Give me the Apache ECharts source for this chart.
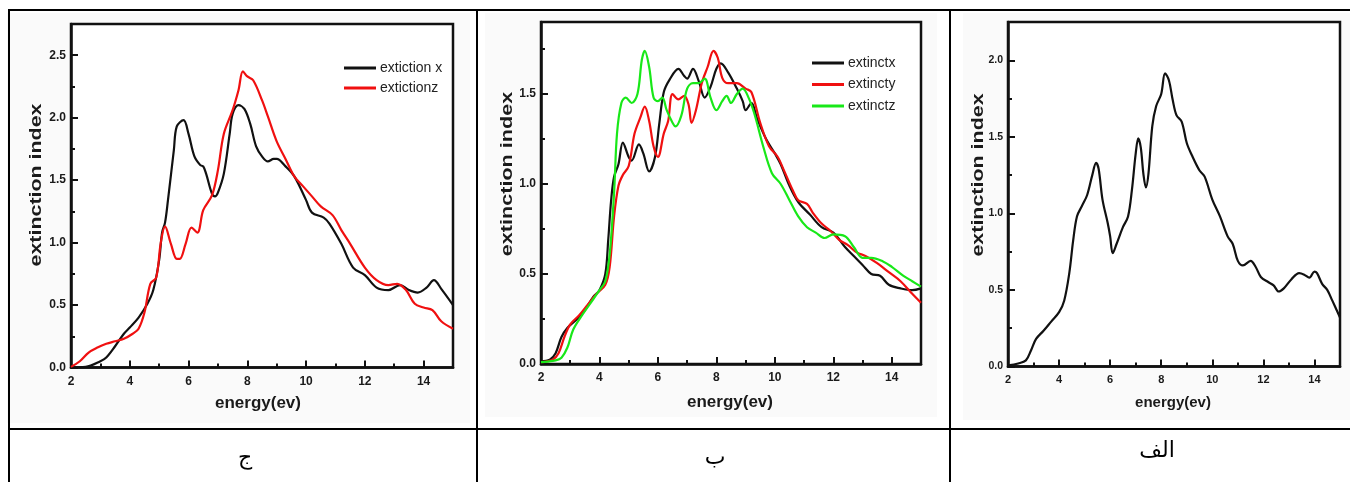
<!DOCTYPE html>
<html>
<head>
<meta charset="utf-8">
<script src="https://cdn.jsdelivr.net/npm/echarts@6/dist/echarts.min.js"></script>
<style>
html,body{margin:0;padding:0;background:#fff;}
#c{width:1350px;height:482px;}
</style>
</head>
<body>
<div id="c"></div>
<script>
// ---- Panel ج (left): extiction x / extictionz ----
const j_x_x = [2.0,2.5,3.0,3.2,3.5,3.8,4.0,4.3,4.6,4.8,5.0,5.1,5.2,5.3,5.5,5.6,5.83,6.0,6.2,6.4,6.5,6.6,6.8,6.9,7.0,7.2,7.4,7.5,7.7,7.9,8.1,8.3,8.5,8.7,8.9,9.0,9.3,9.6,10.0,10.2,10.6,10.8,11.2,11.6,12.0,12.4,12.8,13.2,13.5,13.8,14.1,14.35,14.6,15.0];
const j_y_x = [0.0,0.005,0.05,0.08,0.17,0.27,0.32,0.40,0.51,0.62,0.86,1.08,1.16,1.34,1.74,1.93,1.98,1.87,1.69,1.62,1.61,1.55,1.39,1.37,1.40,1.55,1.87,2.03,2.10,2.07,1.95,1.77,1.69,1.65,1.67,1.67,1.61,1.53,1.34,1.24,1.20,1.15,0.99,0.80,0.74,0.64,0.62,0.66,0.62,0.60,0.64,0.70,0.63,0.50];
const j_x_z = [2.0,2.3,2.6,2.9,3.2,3.5,3.8,4.1,4.3,4.5,4.7,4.9,5.05,5.2,5.4,5.6,5.7,5.9,6.1,6.3,6.5,6.8,7.0,7.2,7.5,7.7,7.85,8.0,8.2,8.5,8.7,9.0,9.3,9.6,9.9,10.2,10.5,10.9,11.2,11.5,12.0,12.4,12.8,13.1,13.4,13.7,14.0,14.3,14.6,15.0];
const j_y_z = [0.005,0.05,0.12,0.16,0.19,0.21,0.23,0.27,0.31,0.44,0.67,0.72,0.99,1.13,0.99,0.87,0.87,0.99,1.12,1.08,1.26,1.38,1.58,1.87,2.06,2.22,2.37,2.33,2.30,2.14,2.01,1.81,1.67,1.53,1.45,1.37,1.29,1.22,1.10,0.99,0.80,0.70,0.66,0.67,0.62,0.51,0.48,0.46,0.37,0.31];

// ---- Panel ب (middle): extinctx / extincty / extinctz ----
const b_x_x = [2.0,2.3,2.5,2.7,2.9,3.2,3.5,3.8,4.0,4.2,4.3,4.4,4.5,4.65,4.8,5.0,5.1,5.35,5.5,5.7,5.9,6.05,6.2,6.4,6.7,6.9,7.0,7.2,7.4,7.6,7.8,8.0,8.15,8.4,8.7,8.9,9.0,9.2,9.4,9.7,10.0,10.2,10.5,10.8,11.2,11.6,12.0,12.4,12.7,13.0,13.3,13.6,13.9,14.3,14.7,15.0];
const b_y_x = [0.015,0.024,0.06,0.15,0.20,0.245,0.30,0.375,0.41,0.50,0.69,0.91,1.04,1.11,1.23,1.15,1.13,1.22,1.17,1.07,1.15,1.34,1.51,1.58,1.64,1.60,1.585,1.64,1.57,1.48,1.54,1.64,1.67,1.62,1.53,1.46,1.41,1.45,1.36,1.25,1.17,1.11,0.99,0.90,0.83,0.76,0.73,0.65,0.60,0.55,0.50,0.49,0.44,0.42,0.41,0.42];
const b_x_y = [2.0,2.4,2.6,2.8,3.0,3.3,3.6,3.9,4.2,4.35,4.5,4.65,4.8,5.0,5.2,5.4,5.55,5.7,5.85,6.0,6.2,6.35,6.5,6.7,6.9,7.05,7.15,7.3,7.5,7.7,7.9,8.05,8.2,8.4,8.7,9.0,9.2,9.5,9.8,10.1,10.3,10.6,10.8,11.1,11.3,11.6,11.9,12.2,12.5,12.8,13.1,13.5,13.9,14.3,14.7,15.0];
const b_y_y = [0.01,0.024,0.06,0.15,0.22,0.27,0.33,0.39,0.44,0.54,0.82,0.99,1.05,1.10,1.28,1.37,1.43,1.35,1.21,1.15,1.28,1.35,1.50,1.47,1.49,1.44,1.34,1.41,1.56,1.65,1.74,1.70,1.59,1.56,1.56,1.53,1.51,1.34,1.21,1.15,1.08,0.97,0.91,0.89,0.84,0.78,0.74,0.69,0.66,0.62,0.60,0.56,0.51,0.46,0.39,0.34];
const b_x_z = [2.0,2.5,2.7,2.9,3.1,3.4,3.7,4.0,4.2,4.35,4.5,4.6,4.75,4.9,5.1,5.3,5.45,5.55,5.7,5.85,6.0,6.15,6.3,6.5,6.6,6.8,7.0,7.2,7.4,7.6,7.8,8.0,8.2,8.35,8.5,8.7,8.9,9.1,9.3,9.6,9.9,10.2,10.5,10.8,11.1,11.4,11.7,12.0,12.4,12.7,13.0,13.3,13.7,14.0,14.4,14.7,15.0];
const b_y_z = [0.01,0.02,0.035,0.09,0.19,0.27,0.34,0.41,0.46,0.61,0.95,1.28,1.45,1.48,1.45,1.50,1.69,1.74,1.65,1.48,1.46,1.48,1.41,1.34,1.32,1.38,1.53,1.56,1.56,1.585,1.48,1.41,1.46,1.49,1.45,1.50,1.53,1.48,1.39,1.21,1.06,1.00,0.91,0.82,0.76,0.73,0.70,0.72,0.71,0.65,0.59,0.59,0.57,0.54,0.49,0.46,0.43];

// ---- Panel الف (right): single curve ----
const a_x = [2.0,2.4,2.7,2.9,3.1,3.4,3.7,4.0,4.2,4.4,4.55,4.7,4.9,5.1,5.3,5.45,5.55,5.7,5.9,6.0,6.1,6.25,6.5,6.7,6.85,7.0,7.1,7.2,7.3,7.4,7.5,7.65,7.8,8.0,8.15,8.3,8.45,8.6,8.8,9.0,9.2,9.5,9.7,10.0,10.3,10.6,10.8,11.0,11.2,11.5,11.7,11.9,12.2,12.4,12.6,12.8,13.1,13.4,13.6,13.8,14.0,14.1,14.3,14.5,14.7,15.0];
const a_y = [0.007,0.02,0.04,0.105,0.18,0.235,0.295,0.355,0.43,0.61,0.82,0.98,1.05,1.12,1.25,1.33,1.29,1.09,0.94,0.85,0.74,0.80,0.91,0.98,1.15,1.39,1.49,1.43,1.26,1.17,1.26,1.57,1.70,1.78,1.915,1.87,1.74,1.64,1.60,1.46,1.38,1.28,1.24,1.09,0.98,0.85,0.80,0.69,0.66,0.69,0.65,0.585,0.55,0.53,0.49,0.51,0.57,0.61,0.60,0.58,0.62,0.61,0.54,0.50,0.43,0.32];

// ---- axis settings / labels ----
const xTickInterval = 2;
const yTickInterval = 0.5;
const xTitle = 'energy(ev)';
const yTitle = 'extinction index';
const names1 = ['extiction x','extictionz'];
const names2 = ['extinctx','extincty','extinctz'];
const cellLabels = ['ج','ب','الف'];

const pairs = (xs, ys) => xs.map((x, i) => [x, ys[i]]);

const BLACK = '#111111', RED = '#f01010', GREEN = '#18e818';
function labelFont(size){
  return {fontFamily:'Liberation Sans, Arial, sans-serif', fontWeight:'bold', fontSize:size, color:'#1a1a1a'};
}

function xAxis(gi, fs){
  return {type:'value', gridIndex:gi, min:2, max:15, interval:xTickInterval,
    axisLine:{show:true, onZero:false, lineStyle:{color:BLACK, width:2.5}},
    axisTick:{show:true, inside:true, length:7, lineStyle:{color:BLACK, width:2}},
    minorTick:{show:true, splitNumber:2, length:4, lineStyle:{color:BLACK, width:2}},
    splitLine:{show:false},
    axisLabel:Object.assign({margin:8, showMaxLabel:false}, labelFont(fs))};
}
function yAxis(gi, max, fs){
  return {type:'value', gridIndex:gi, min:0, max:max, interval:yTickInterval,
    axisLine:{show:true, onZero:false, lineStyle:{color:BLACK, width:2.5}},
    axisTick:{show:true, inside:true, length:7, lineStyle:{color:BLACK, width:2}},
    minorTick:{show:true, splitNumber:2, length:4, lineStyle:{color:BLACK, width:2}},
    splitLine:{show:false},
    axisLabel:Object.assign({margin:5, showMaxLabel:false, formatter:v=>v.toFixed(1)}, labelFont(fs))};
}
function line(name, data, color, gi){
  return {name:name, type:'line', xAxisIndex:gi, yAxisIndex:gi, data:data,
    showSymbol:false, symbol:'none', smooth:0.35, clip:true,
    lineStyle:{color:color, width:2.2}, itemStyle:{color:color}, z:3};
}

const titleFont = 'bold {s}px "Liberation Sans", Arial, sans-serif';
function tText(text, x, y, size, rot, sx){
  return {type:'text', x:x, y:y, rotation:rot||0, scaleX:sx||1, z:10,
    style:{text:text, x:0, y:0, align:'center', verticalAlign:'middle',
      font:titleFont.replace('{s}', size), fill:'#1a1a1a'}};
}
function hLine(x1, x2, y){ return {type:'line', shape:{x1:x1,y1:y,x2:x2,y2:y}, style:{stroke:'#000', lineWidth:2}, z:20}; }
function vLine(x, y1, y2){ return {type:'line', shape:{x1:x,y1:y1,x2:x,y2:y2}, style:{stroke:'#000', lineWidth:2}, z:20}; }
function bg(x, y, w, h){ return {type:'rect', shape:{x:x,y:y,width:w,height:h}, style:{fill:'#fafafa'}, z:-10}; }
function cell(text, x, y){
  return {type:'text', x:x, y:y, z:10, style:{text:text, align:'center', verticalAlign:'middle',
    font:'22px "Liberation Serif", "DejaVu Serif", "DejaVu Sans", serif', fill:'#000'}};
}

const option = {
  backgroundColor:'#ffffff',
  animation:false,
  grid:[
    {left:71, top:24, width:382, height:343.5, show:true, borderColor:BLACK, borderWidth:2.5, backgroundColor:'#ffffff', containLabel:false},
    {left:541, top:22, width:380, height:342, show:true, borderColor:BLACK, borderWidth:2.5, backgroundColor:'#ffffff', containLabel:false},
    {left:1008, top:22, width:332, height:344.5, show:true, borderColor:BLACK, borderWidth:2.5, backgroundColor:'#ffffff', containLabel:false}
  ],
  xAxis:[xAxis(0, 12), xAxis(1, 12), xAxis(2, 11)],
  yAxis:[yAxis(0, 2.75, 12), yAxis(1, 1.9, 12), yAxis(2, 2.25, 10.5)],
  legend:[
    {data:names1, orient:'vertical', left:344, top:61, itemWidth:32, itemHeight:3, itemGap:6, icon:'rect',
     textStyle:{fontFamily:'Liberation Sans, Arial, sans-serif', fontSize:14, color:'#222', padding:[0,0,0,-1]}, padding:0},
    {data:names2, orient:'vertical', left:812, top:56, itemWidth:32, itemHeight:3, itemGap:7.5, icon:'rect',
     textStyle:{fontFamily:'Liberation Sans, Arial, sans-serif', fontSize:14, color:'#222', padding:[0,0,0,-1]}, padding:0}
  ],
  series:[
    line(names1[0], pairs(j_x_x, j_y_x), BLACK, 0),
    line(names1[1], pairs(j_x_z, j_y_z), RED, 0),
    line(names2[0], pairs(b_x_x, b_y_x), BLACK, 1),
    line(names2[1], pairs(b_x_y, b_y_y), RED, 1),
    line(names2[2], pairs(b_x_z, b_y_z), GREEN, 1),
    line('k', pairs(a_x, a_y), BLACK, 2)
  ],
  graphic:[
    bg(7, 13, 463, 410), bg(485, 13, 452, 404), bg(963, 13, 387, 407),
    tText(xTitle, 258, 403, 17), tText(yTitle, 36, 185, 17, Math.PI/2, 1.26),
    tText(xTitle, 730, 402, 17), tText(yTitle, 507, 174, 17, Math.PI/2, 1.27),
    tText(xTitle, 1173, 403, 15), tText(yTitle, 979, 175, 16, Math.PI/2, 1.34),
    hLine(8, 1350, 10), hLine(8, 1350, 429),
    vLine(9, 10, 482), vLine(477, 10, 482), vLine(950, 10, 482),
    cell(cellLabels[0], 245, 458),
    cell(cellLabels[1], 715, 458),
    cell(cellLabels[2], 1157, 451)
  ]
};
const chart = echarts.init(document.getElementById('c'), null, {renderer:'canvas'});
chart.setOption(option);
</script>
</body>
</html>
